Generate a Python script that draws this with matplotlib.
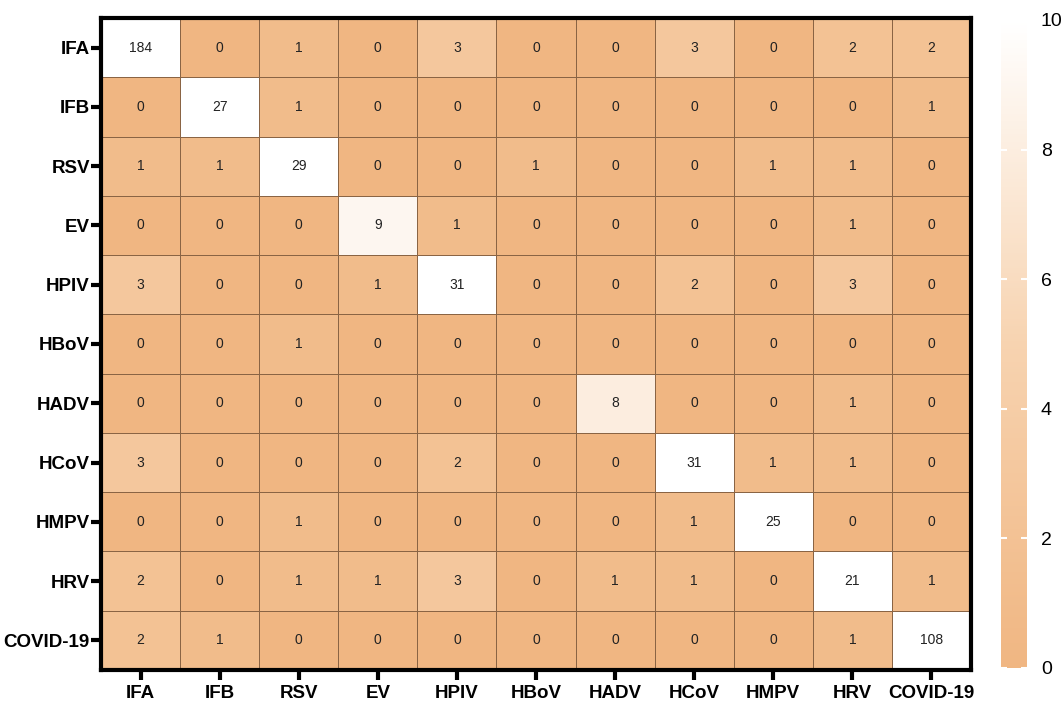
import numpy as np
import matplotlib.pyplot as plt
from matplotlib.colors import LinearSegmentedColormap

plt.rcParams['font.family'] = ['Liberation Sans', 'DejaVu Sans']

# virus labels and detection counts (rows vs columns)
labels = ['IFA', 'IFB', 'RSV', 'EV', 'HPIV', 'HBoV', 'HADV', 'HCoV', 'HMPV', 'HRV', 'COVID-19']
counts = np.array([
    [184, 0, 1, 0, 3, 0, 0, 3, 0, 2, 2],
    [0, 27, 1, 0, 0, 0, 0, 0, 0, 0, 1],
    [1, 1, 29, 0, 0, 1, 0, 0, 1, 1, 0],
    [0, 0, 0, 9, 1, 0, 0, 0, 0, 1, 0],
    [3, 0, 0, 1, 31, 0, 0, 2, 0, 3, 0],
    [0, 0, 1, 0, 0, 0, 0, 0, 0, 0, 0],
    [0, 0, 0, 0, 0, 0, 8, 0, 0, 1, 0],
    [3, 0, 0, 0, 2, 0, 0, 31, 1, 1, 0],
    [0, 0, 1, 0, 0, 0, 0, 1, 25, 0, 0],
    [2, 0, 1, 1, 3, 0, 1, 1, 0, 21, 1],
    [2, 1, 0, 0, 0, 0, 0, 0, 0, 1, 108],
])
cbar_ticks = [0, 2, 4, 6, 8, 10]

cmap = LinearSegmentedColormap.from_list('peach', ['#F0B682', '#F7D3B0', '#FFFFFF'])

fig = plt.figure(figsize=(10.63, 7.02), dpi=100)
ax = fig.add_axes([101/1063, 1 - 670/702, 870/1063, 652/702])
cax = fig.add_axes([1001/1063, 1 - 668/702, 26/1063, 648/702])

n = len(labels)
mesh = ax.pcolormesh(np.arange(n + 1), np.arange(n + 1), counts, cmap=cmap,
                     vmin=0, vmax=10, edgecolor='#8A6444', linewidth=0.5)
ax.set_xlim(0, n)
ax.set_ylim(n, 0)

for i in range(n):
    for j in range(n):
        ax.text(j + 0.5, i + 0.5, str(counts[i, j]), ha='center', va='center',
                fontsize=10, color='#222222')

ax.set_xticks(np.arange(n) + 0.5)
ax.set_yticks(np.arange(n) + 0.5)
ax.set_xticklabels(labels, fontsize=13.5, fontweight='bold')
ax.set_yticklabels(labels, fontsize=13.5, fontweight='bold')
ax.tick_params(axis='x', length=7, width=3, color='black', pad=4)
ax.tick_params(axis='y', length=7, width=3, color='black', pad=1)
for s in ax.spines.values():
    s.set_linewidth(3)

cb = fig.colorbar(mesh, cax=cax, ticks=cbar_ticks)
cb.outline.set_visible(False)
cax.tick_params(axis='y', direction='in', length=4, width=1.5, color='white',
                labelsize=14, pad=10, left=True, right=True)

fig.savefig('out.png', dpi=100)
